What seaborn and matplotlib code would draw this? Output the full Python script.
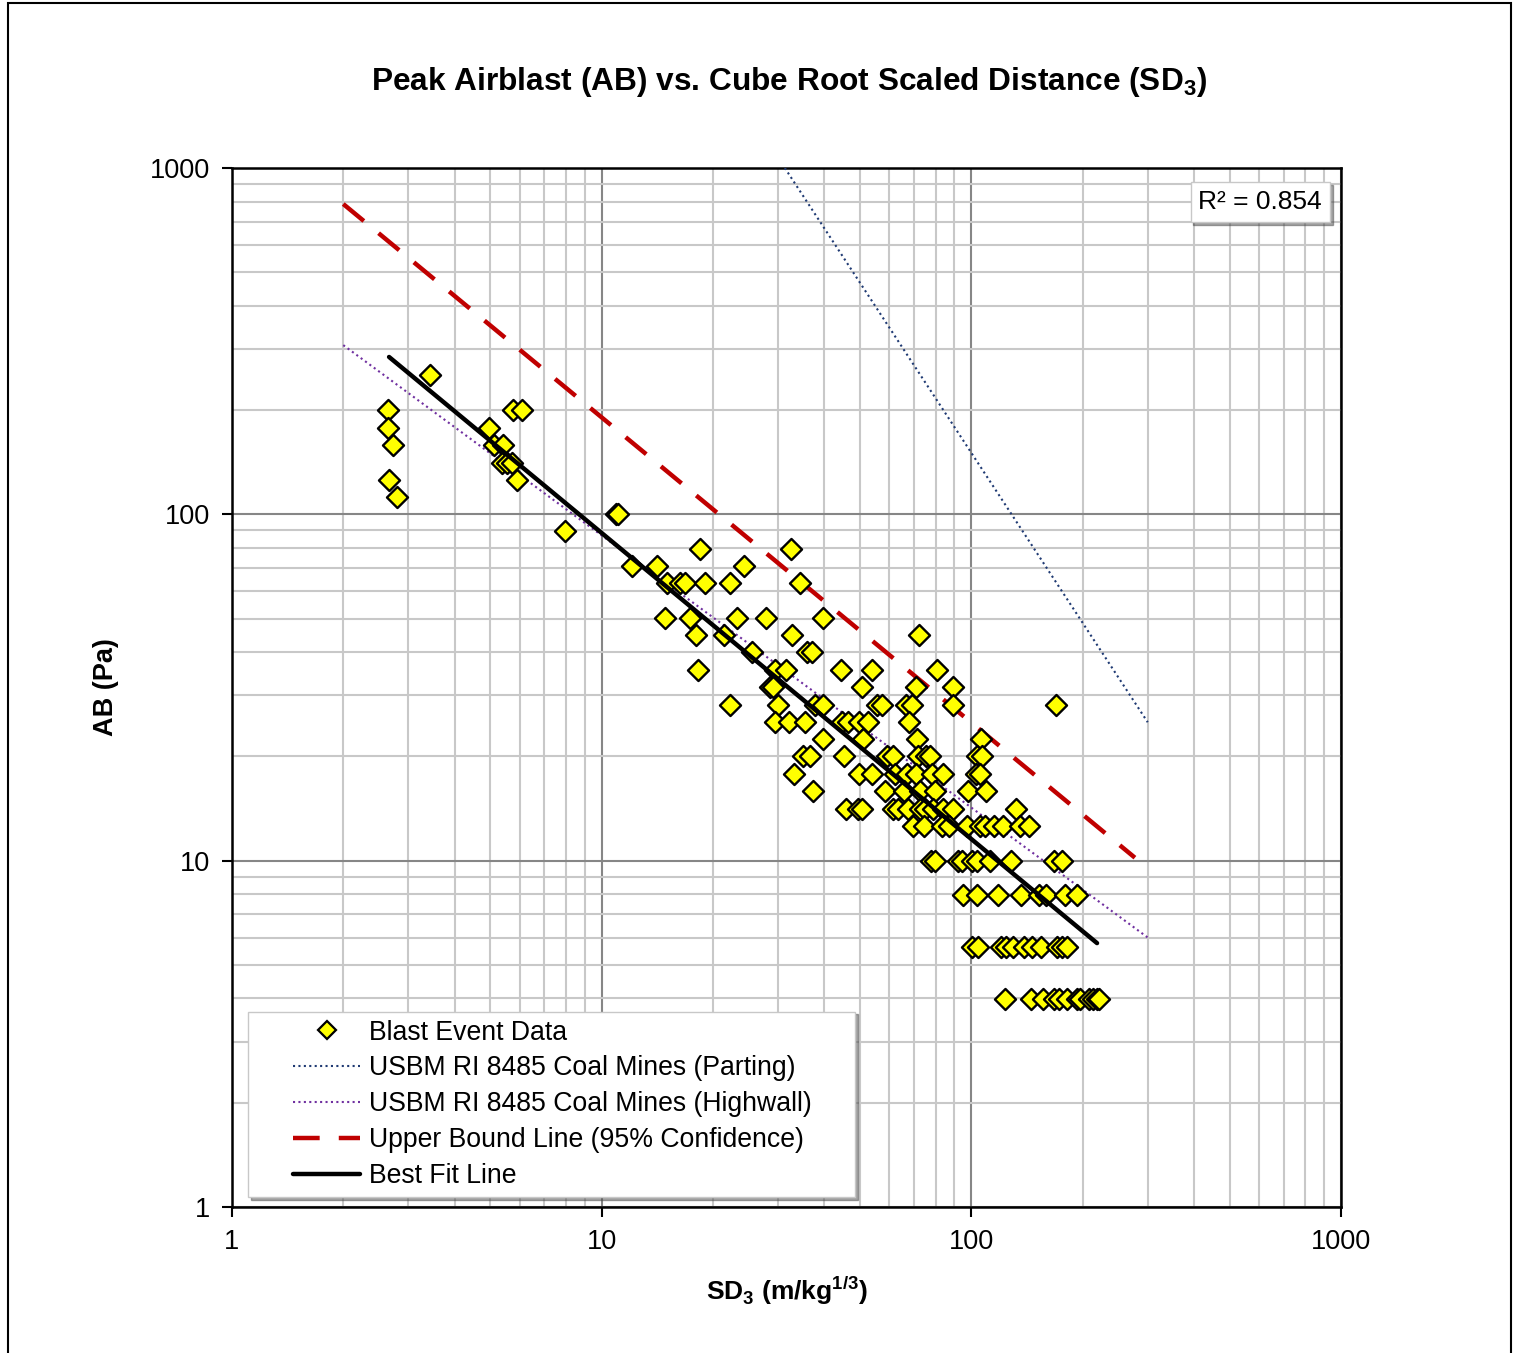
import matplotlib
matplotlib.use("Agg")
import matplotlib.pyplot as plt
import seaborn as sns
from matplotlib.lines import Line2D
from matplotlib.patches import Rectangle
from matplotlib.legend_handler import HandlerLine2D
from matplotlib.ticker import FixedLocator, FixedFormatter, LogLocator, NullFormatter

# DATA
blast_sd = [3.43,
            2.64, 5.74, 6.08,
            2.64, 4.97,
            2.72, 5.11, 5.42,
            5.37, 5.55, 5.73,
            2.66, 5.89,
            2.80,
            10.9, 11.1,
            7.96,
            18.5, 32.5,
            12.06, 14.09, 24.2,
            15.0, 16.3, 16.8, 19.0, 22.2, 34.3,
            14.8, 17.3, 23.2, 27.8, 39.6,
            18.0, 21.4, 32.8, 72.3,
            25.5, 35.9, 37.0,
            18.2, 29.4, 31.5, 44.3, 53.7, 80.9,
            28.5, 29.1, 50.5, 70.8, 89.0,
            22.2, 30.0, 37.8, 39.8, 55.4, 57.2, 66.6, 69.0, 89.4, 169,
            29.4, 32.2, 35.5, 44.6, 46.5, 49.8, 52.6, 67.9,
            39.8, 51.0, 71.1, 106.2,
            35.0, 36.7, 45.2, 59.0, 61.3, 71.8, 75.3, 77.3, 103.4, 107.1,
            33.2, 49.7, 53.8, 62.2, 67.1, 70.8, 78.5, 83.9, 102.9, 105.5,
            37.4, 58.4, 65.7, 72.6, 79.7, 97.7, 109.6,
            45.7, 49.4, 50.5, 61.5, 63.4, 67.5, 72.6, 74.9, 78.7, 83.9, 89.4, 132,
            69.7, 74.5, 83.2, 87.2, 97.1, 105.5, 108.9, 115.2, 122.1, 135.4, 143.5,
            77.6, 79.7, 91.8, 94.2, 100.6, 103.4, 112.3, 127.8, 167.6, 175.5,
            94.8, 103.8, 118.3, 136, 152.7, 159.2, 179.3, 193.5,
            100.2, 104.5, 120.2, 124.1, 129.9, 138.6, 145.5, 153.9, 170.2, 175.5, 181.1,
            123.5, 144.6, 155.8, 167.3, 173, 181.1, 192.8, 196.8, 208.5, 213.6, 218.5, 222]
blast_ab = ([252] + [200] * 3 + [178] * 2 + [159] * 3 + [141] * 3 + [126] * 2 + [112]
            + [100] * 2 + [89.3] + [79.6] * 2 + [71] * 3 + [63.2] * 6 + [50.2] * 5
            + [44.8] * 4 + [40] * 3 + [35.6] * 6 + [31.7] * 5 + [28.2] * 10
            + [25.2] * 8 + [22.4] * 4 + [20] * 10 + [17.8] * 10 + [15.9] * 7
            + [14.1] * 12 + [12.6] * 11 + [10] * 10 + [7.96] * 8 + [5.64] * 11 + [3.99] * 12)

parting_sd = [31.3, 300]
parting_ab = [1000, 25.1]
highwall_sd = [2.0, 300]
highwall_ab = [308, 6.0]
upper_sd = [2.0, 277]
upper_ab = [787, 10.2]
fit_sd = [2.66, 218.8]
fit_ab = [284.7, 5.78]

r2_text = "R² = 0.854"
labels = ["Blast Event Data",
          "USBM RI 8485 Coal Mines (Parting)",
          "USBM RI 8485 Coal Mines (Highwall)",
          "Upper Bound Line (95% Confidence)",
          "Best Fit Line"]


class PadHandler(HandlerLine2D):
    # leaves an empty gap on the left of each legend handle (Excel style)
    def create_artists(self, legend, orig_handle, xdescent, ydescent,
                       width, height, fontsize, trans):
        pad = 0.36 * width
        return super().create_artists(legend, orig_handle, xdescent - pad, ydescent,
                                      width - pad, height, fontsize, trans)


sns.set_style("white")
plt.rcParams['font.family'] = ['Liberation Sans', 'DejaVu Sans']
plt.rcParams['mathtext.fontset'] = 'custom'
plt.rcParams['mathtext.rm'] = 'Liberation Sans'
plt.rcParams['mathtext.bf'] = 'Liberation Sans:bold'
plt.rcParams['text.color'] = 'black'
plt.rcParams['axes.labelcolor'] = 'black'
plt.rcParams['xtick.color'] = 'black'
plt.rcParams['ytick.color'] = 'black'

fig = plt.figure(figsize=(15.19, 13.53), dpi=100)
ax = fig.add_axes([232/1519, 1 - 1207/1353, (1341-232)/1519, (1207-168)/1353])

c_part = '#1F3A73'
c_high = '#7030A0'
c_up = '#C00000'
dot = (0, (1, 1.6))
dash = (0, (6, 4.3))

sns.lineplot(x=parting_sd, y=parting_ab, ax=ax, color=c_part, lw=1.5,
             linestyle=dot, estimator=None, sort=False, zorder=3)
sns.lineplot(x=highwall_sd, y=highwall_ab, ax=ax, color=c_high, lw=1.5,
             linestyle=dot, estimator=None, sort=False, zorder=3)
sns.lineplot(x=upper_sd, y=upper_ab, ax=ax, color=c_up, lw=3.2,
             linestyle=dash, estimator=None, sort=False, zorder=3)
sns.scatterplot(x=blast_sd, y=blast_ab, ax=ax, marker='D', s=115,
                color='#FFFF00', edgecolor='black', linewidth=1.7, zorder=4)
sns.lineplot(x=fit_sd, y=fit_ab, ax=ax, color='black', lw=3.2,
             estimator=None, sort=False, zorder=5)

ax.set_xscale('log')
ax.set_yscale('log')
ax.set_xlim(1, 1000)
ax.set_ylim(1, 1000)

majors = [1, 10, 100, 1000]
ax.xaxis.set_major_locator(FixedLocator(majors))
ax.yaxis.set_major_locator(FixedLocator(majors))
ax.xaxis.set_major_formatter(FixedFormatter([str(v) for v in majors]))
ax.yaxis.set_major_formatter(FixedFormatter([str(v) for v in majors]))
ax.xaxis.set_minor_locator(LogLocator(base=10, subs=range(2, 10)))
ax.yaxis.set_minor_locator(LogLocator(base=10, subs=range(2, 10)))
ax.xaxis.set_minor_formatter(NullFormatter())
ax.yaxis.set_minor_formatter(NullFormatter())
ax.grid(which='major', color='#868686', lw=1.5, zorder=0)
ax.grid(which='minor', color='#c8c8c8', lw=1.5, zorder=0)
ax.set_axisbelow(True)
ax.tick_params(which='major', direction='out', length=7, width=1.5,
               labelsize=19.5, bottom=True, left=True)
ax.tick_params(axis='y', which='major', pad=9)
ax.tick_params(axis='x', which='major', pad=9)
ax.tick_params(which='minor', length=0)
for sp in ax.spines.values():
    sp.set_color('black')
    sp.set_linewidth(1.8)

ax.set_xlabel(r"SD$_{\mathbf{3}}$ (m/kg$^{\mathbf{1/3}}$)", fontsize=19,
              fontweight='bold', labelpad=14)
ax.set_ylabel("AB (Pa)", fontsize=19.5, fontweight='bold', labelpad=22)
fig.text(789/1519, 1 - 82/1353,
         r"Peak Airblast (AB) vs. Cube Root Scaled Distance (SD$_{\mathbf{3}}$)",
         ha='center', va='center', fontsize=22.8, fontweight='bold')

handles = [Line2D([], [], marker='D', ls='none', markersize=9,
                  markerfacecolor='#FFFF00', markeredgecolor='black', markeredgewidth=1.6),
           Line2D([], [], color=c_part, lw=1.5, ls=dot),
           Line2D([], [], color=c_high, lw=1.5, ls=dot),
           Line2D([], [], color=c_up, lw=3.2, ls=dash),
           Line2D([], [], color='black', lw=3.2)]
hmap = {h: PadHandler() for h in handles}
leg = ax.legend(handles, labels, handler_map=hmap, loc='lower left', mode='expand',
                bbox_to_anchor=(16/1109, 10/1039, 607/1109, 184/1039),
                borderaxespad=0, fontsize=19.2, handlelength=3.9, handletextpad=0.34,
                labelspacing=0.37, borderpad=0.3, frameon=True, fancybox=False,
                shadow=True, framealpha=1, edgecolor='#c8c8c8')
ax.add_artist(leg)

r2 = ax.legend([Line2D([], [], ls='none')], [r2_text], loc='upper right',
               bbox_to_anchor=(1 - 11/1109, 1 - 14/1039), borderaxespad=0,
               fontsize=19, handlelength=0, handletextpad=0, frameon=True,
               fancybox=False, shadow=True, framealpha=1, edgecolor='#c8c8c8',
               borderpad=0.3)

fig.patches.append(Rectangle((8/1519, -0.01), (1511-8)/1519, 1.01 - 3/1353,
                             transform=fig.transFigure, fill=False,
                             edgecolor='black', lw=1.5))

fig.savefig("out.png", dpi=100)
